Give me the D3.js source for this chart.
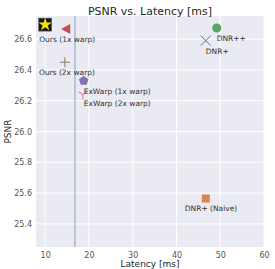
<!DOCTYPE html>
<html>
<head>
<meta charset="utf-8">
<script src="https://cdn.jsdelivr.net/npm/d3@7"></script>
<style>
  body { margin: 0; background: #fff; }
  text { font-family: "DejaVu Sans", sans-serif; }
</style>
</head>
<body>
<div id="chart"></div>
<script>
// Data
const methods = ["Target", "Ours (1x warp)", "Ours (2x warp)", "ExWarp (1x warp)", "ExWarp (2x warp)", "DNR++", "DNR+", "DNR+ (Naive)"];
const latency = [10.0, 14.8, 14.5, 18.8, 18.6, 49.2, 46.7, 46.7];
const psnr = [26.694, 26.665, 26.45, 26.33, 26.24, 26.672, 26.59, 25.565];
const showLabel = [false, true, true, true, true, true, true, true];
const xTicks = [10, 20, 30, 40, 50, 60];
const yTicks = [25.4, 25.6, 25.8, 26.0, 26.2, 26.4, 26.6];
const refLatency = 16.8;

// marker styles (seaborn deep palette)
const markers = ["star", "triangle-left", "plus", "pentagon", "tri-down", "circle", "x", "square"];
const colors = ["#f5e400", "#C44E52", "#937860", "#8172B3", "#DA8BC3", "#55A868", "#4C72B0", "#DD8452"];
const labelOffsets = [[0, 0], [-27, 10], [-26, 10], [0, 11], [1, 9], [0, 10], [0, 11], [-21, 10]];

const W = 275, H = 269;
const plot = {left: 36, right: 264, top: 16, bottom: 247};

const svg = d3.select("#chart").append("svg")
    .attr("width", W)
    .attr("height", H);

const x = d3.scaleLinear().domain([7.9, 60]).range([plot.left, plot.right]);
const y = d3.scaleLinear().domain([25.25, 26.75]).range([plot.bottom, plot.top]);

// background
svg.append("rect")
    .attr("x", plot.left)
    .attr("y", plot.top)
    .attr("width", plot.right - plot.left)
    .attr("height", plot.bottom - plot.top)
    .attr("fill", "#EAEAF2");

// grid
svg.append("g")
    .selectAll("line")
    .data(xTicks)
    .join("line")
    .attr("x1", d => x(d)).attr("x2", d => x(d))
    .attr("y1", plot.top).attr("y2", plot.bottom)
    .attr("stroke", "#fff").attr("stroke-width", 1);

svg.append("g")
    .selectAll("line")
    .data(yTicks)
    .join("line")
    .attr("x1", plot.left).attr("x2", plot.right)
    .attr("y1", d => y(d)).attr("y2", d => y(d))
    .attr("stroke", "#fff").attr("stroke-width", 1);

// axes (labels only)
const xAxis = svg.append("g")
    .attr("transform", `translate(0,${plot.bottom})`)
    .call(d3.axisBottom(x).tickValues(xTicks).tickSize(0).tickPadding(5).tickFormat(d3.format("d")));
const yAxis = svg.append("g")
    .attr("transform", `translate(${plot.left},0)`)
    .call(d3.axisLeft(y).tickValues(yTicks).tickSize(0).tickPadding(4).tickFormat(d3.format(".1f")));
[xAxis, yAxis].forEach(g => {
    g.select(".domain").remove();
    g.selectAll("text")
        .attr("font-family", "DejaVu Sans")
        .attr("font-size", 8)
        .attr("fill", "#555");
});

// reference latency line
svg.append("line")
    .attr("x1", x(refLatency)).attr("x2", x(refLatency))
    .attr("y1", plot.top).attr("y2", plot.bottom)
    .attr("stroke", "#4C72B0")
    .attr("stroke-opacity", 0.4)
    .attr("stroke-width", 1.6);

// markers
const sym = {
    "circle": d3.symbolCircle,
    "square": d3.symbolSquare,
    "star": d3.symbolStar
};

methods.forEach((m, i) => {
    const g = svg.append("g")
        .attr("transform", `translate(${x(latency[i])},${y(psnr[i])})`);
    const c = colors[i];
    const k = markers[i];
    if (k === "star") {
        g.append("rect")
            .attr("x", -6.5).attr("y", -6.5)
            .attr("width", 13).attr("height", 13)
            .attr("fill", "#151515")
            .attr("stroke", "#666")
            .attr("stroke-width", 0.6);
        g.append("path")
            .attr("d", d3.symbol(d3.symbolStar, 55)())
            .attr("fill", c);
    } else if (k === "circle" || k === "square") {
        g.append("path")
            .attr("d", d3.symbol(sym[k], 64)())
            .attr("fill", c);
    } else if (k === "triangle-left") {
        g.append("path")
            .attr("d", "M-5,0L4,-5L4,5Z")
            .attr("fill", c);
    } else if (k === "pentagon") {
        const pts = d3.range(5).map(j => {
            const a = -Math.PI / 2 + j * 2 * Math.PI / 5;
            return [5 * Math.cos(a), 5 * Math.sin(a)];
        });
        g.append("path")
            .attr("d", "M" + pts.join("L") + "Z")
            .attr("fill", c);
    } else if (k === "plus") {
        g.append("path")
            .attr("d", "M-5,0H5M0,-5V5")
            .attr("stroke", c).attr("stroke-width", 1);
    } else if (k === "x") {
        g.append("path")
            .attr("d", "M-5,-5L5,5M-5,5L5,-5")
            .attr("stroke", c).attr("stroke-width", 1);
    } else if (k === "tri-down") {
        g.append("path")
            .attr("d", "M0,0V5M0,0L-4.3,-2.5M0,0L4.3,-2.5")
            .attr("stroke", c).attr("stroke-width", 1.2);
    }
});

// point labels
svg.append("g")
    .selectAll("text")
    .data(methods.map((m, i) => i).filter(i => showLabel[i]))
    .join("text")
    .attr("x", i => x(latency[i]) + labelOffsets[i][0])
    .attr("y", i => y(psnr[i]) + labelOffsets[i][1])
    .attr("dy", "0.35em")
    .attr("font-size", 7.5)
    .attr("fill", "#333")
    .text(i => methods[i]);

// title and axis labels
svg.append("text")
    .attr("x", (plot.left + plot.right) / 2)
    .attr("y", 11)
    .attr("dy", "0.35em")
    .attr("text-anchor", "middle")
    .attr("font-size", 11)
    .attr("fill", "#262626")
    .text("PSNR vs. Latency [ms]");

svg.append("text")
    .attr("x", (plot.left + plot.right) / 2)
    .attr("y", 264)
    .attr("dy", "0.35em")
    .attr("text-anchor", "middle")
    .attr("font-size", 9)
    .attr("fill", "#262626")
    .text("Latency [ms]");

svg.append("text")
    .attr("transform", `translate(8,${(plot.top + plot.bottom) / 2}) rotate(-90)`)
    .attr("dy", "0.35em")
    .attr("text-anchor", "middle")
    .attr("font-size", 9)
    .attr("fill", "#262626")
    .text("PSNR");
</script>
</body>
</html>
